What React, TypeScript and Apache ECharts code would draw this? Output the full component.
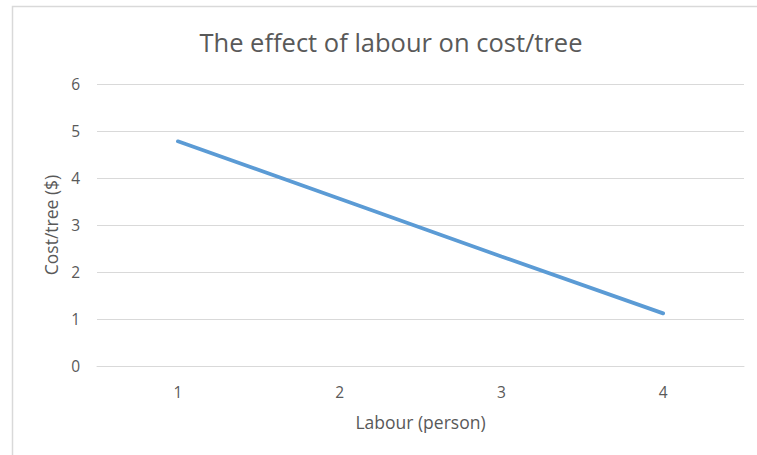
import React, { useEffect, useRef } from "react";
import * as echarts from "echarts";

const categories = ["1", "2", "3", "4"];
const costPerTree = [4.78, 3.56, 2.33, 1.12];
const titleText = "The effect of labour on cost/tree";
const xName = "Labour (person)";
const yName = "Cost/tree ($)";

export default function App() {
  const ref = useRef<HTMLDivElement>(null);
  useEffect(() => {
    if (!ref.current) return;
    const chart = echarts.init(ref.current, null, { renderer: "svg" });
    const font = "'Open Sans', 'Noto Sans', sans-serif";
    chart.setOption({
      animation: false,
      backgroundColor: "#ffffff",
      title: {
        text: titleText,
        left: 386,
        top: 24,
        textAlign: "center",
        textStyle: { fontFamily: font, fontSize: 25.5, fontWeight: "normal", color: "#595959" },
      },
      graphic: [
        {
          type: "rect",
          shape: { x: 12.5, y: 6.5, width: 800, height: 500 },
          style: { fill: "none", stroke: "#d9d9d9", lineWidth: 1.5 },
          silent: true,
        },
      ],
      grid: { left: 97, right: 13, top: 84, bottom: 89 },
      xAxis: {
        type: "category",
        data: categories,
        boundaryGap: true,
        name: xName,
        nameLocation: "middle",
        nameGap: 47,
        nameTextStyle: { fontFamily: font, fontSize: 17.5, color: "#595959" },
        axisLine: { show: true, lineStyle: { color: "#d9d9d9", width: 1 } },
        axisTick: { show: false },
        axisLabel: { margin: 18, fontFamily: font, fontSize: 15.5, color: "#595959" },
      },
      yAxis: {
        type: "value",
        min: 0,
        max: 6,
        interval: 1,
        name: yName,
        nameLocation: "middle",
        nameGap: 36,
        nameTextStyle: { fontFamily: font, fontSize: 17.5, color: "#595959" },
        axisLine: { show: false },
        axisTick: { show: false },
        axisLabel: { margin: 17, fontFamily: font, fontSize: 15.5, color: "#595959" },
        splitLine: { lineStyle: { color: "#d9d9d9", width: 1 } },
      },
      series: [
        {
          type: "line",
          data: costPerTree,
          showSymbol: false,
          symbol: "none",
          lineStyle: { color: "#5b9bd5", width: 3.75, cap: "round" },
        },
      ],
    });
    return () => chart.dispose();
  }, []);
  return (
    <div
      ref={ref}
      style={{ position: "absolute", left: 0, top: 0, width: 757, height: 455 }}
    />
  );
}
